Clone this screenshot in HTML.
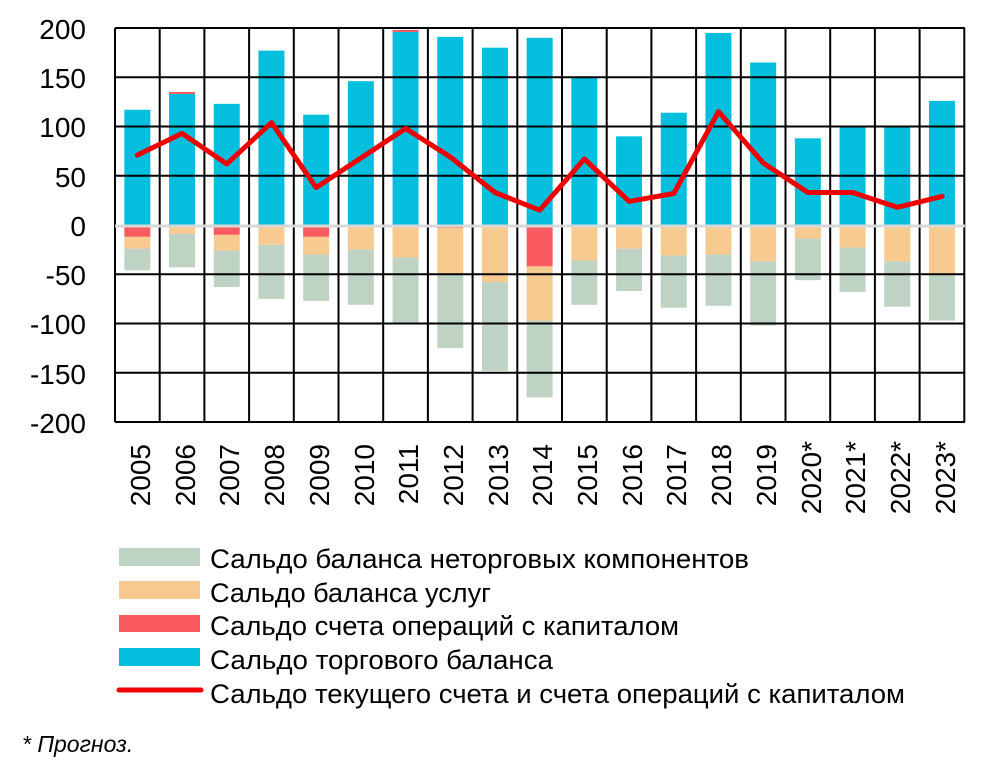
<!DOCTYPE html>
<html><head><meta charset="utf-8">
<style>
html,body{margin:0;padding:0;background:#fff;}
svg{display:block;}
text{font-family:"Liberation Sans",sans-serif;fill:#000;}
</style></head>
<body>
<svg id="s" width="984" height="770" viewBox="0 0 984 770" xmlns="http://www.w3.org/2000/svg">
<g id="bars"></g>
<g id="grid" stroke="#000" stroke-width="2" fill="none"></g>
<line x1="115" y1="226" x2="965" y2="226" stroke="#d8d8d8" stroke-width="3"/>
<polyline id="ln" fill="none" stroke="#f00000" stroke-width="5" stroke-linejoin="round" stroke-linecap="round"/>
<g font-size="28" text-anchor="end">
<text x="86" y="39">200</text>
<text x="86" y="88">150</text>
<text x="86" y="137">100</text>
<text x="86" y="187">50</text>
<text x="86" y="236">0</text>
<text x="86" y="285">-50</text>
<text x="86" y="334">-100</text>
<text x="86" y="384">-150</text>
<text x="86" y="433">-200</text>
</g>
<g font-size="28" text-anchor="end">
<text transform="translate(150,444) rotate(-90)">2005</text>
<text transform="translate(195,444) rotate(-90)">2006</text>
<text transform="translate(239,444) rotate(-90)">2007</text>
<text transform="translate(284,444) rotate(-90)">2008</text>
<text transform="translate(329,444) rotate(-90)">2009</text>
<text transform="translate(374,444) rotate(-90)">2010</text>
<text transform="translate(418,444) rotate(-90)">2011</text>
<text transform="translate(463,444) rotate(-90)">2012</text>
<text transform="translate(508,444) rotate(-90)">2013</text>
<text transform="translate(552,444) rotate(-90)">2014</text>
<text transform="translate(597,444) rotate(-90)">2015</text>
<text transform="translate(642,444) rotate(-90)">2016</text>
<text transform="translate(686,444) rotate(-90)">2017</text>
<text transform="translate(731,444) rotate(-90)">2018</text>
<text transform="translate(776,444) rotate(-90)">2019</text>
<text transform="translate(821,441) rotate(-90)">2020*</text>
<text transform="translate(865,441) rotate(-90)">2021*</text>
<text transform="translate(910,441) rotate(-90)">2022*</text>
<text transform="translate(955,441) rotate(-90)">2023*</text>
</g>
<rect x="119" y="548" width="81" height="18" fill="#bed3c3"/>
<rect x="119" y="581" width="81" height="18" fill="#f7ca8f"/>
<rect x="119" y="615" width="81" height="17" fill="#f95a5f"/>
<rect x="119" y="648" width="81" height="18" fill="#03bfdd"/>
<line x1="119" y1="690" x2="201" y2="690" stroke="#f00000" stroke-width="5" stroke-linecap="round"/>
<g font-size="27">
<text x="210" y="568" textLength="539" lengthAdjust="spacingAndGlyphs">Сальдо баланса неторговых компонентов</text>
<text x="210" y="602" textLength="281" lengthAdjust="spacingAndGlyphs">Сальдо баланса услуг</text>
<text x="210" y="635" textLength="469" lengthAdjust="spacingAndGlyphs">Сальдо счета операций с капиталом</text>
<text x="210" y="669" textLength="343" lengthAdjust="spacingAndGlyphs">Сальдо торгового баланса</text>
<text x="210" y="703" textLength="695" lengthAdjust="spacingAndGlyphs">Сальдо текущего счета и счета операций с капиталом</text>
</g>
<text x="22" y="752" font-size="23" font-style="italic">* Прогноз.</text>
</svg>
<script>
var NS="http://www.w3.org/2000/svg";
function Y(v){return 225-0.985*v;}
var d=[
[117,0,-12,-24,-46,71],[133,2,0,-9,-43,93],[123,0,-10,-26,-63,62],[177,0,0,-20,-75,104],
[112,0,-12,-30,-77,38],[146,0,0,-25,-81,68],[196,2,0,-33,-101,98],[191,0,-3,-50,-125,69],
[180,0,0,-58,-148,33],[190,0,-42,-97,-175,15],[150,0,0,-36,-81,67],[90,0,0,-24,-67,24],
[114,0,0,-31,-84,32],[195,0,0,-30,-82,115],[165,0,0,-37,-102,63],[88,0,0,-14,-56,33],
[100,0,0,-23,-68,33],[100,0,0,-37,-83,18],[126,0,0,-51,-97,29]];
var g=document.getElementById("bars"),pts=[];
function r(x,v1,v2,c){var a=Y(Math.max(v1,v2)),b=Y(Math.min(v1,v2));var e=document.createElementNS(NS,"rect");
e.setAttribute("x",x);e.setAttribute("y",a);e.setAttribute("width",26);e.setAttribute("height",b-a);e.setAttribute("fill",c);g.appendChild(e);}
d.forEach(function(o,i){var cx=115+44.7*(i+0.5),x=cx-13;
r(x,0,o[0],"#03bfdd");if(o[1])r(x,o[0],o[0]+o[1],"#f95a5f");
var s=0;if(o[2]){r(x,0,o[2],"#f95a5f");s=o[2];}
r(x,s,o[3],"#f7ca8f");r(x,o[3],o[4],"#bed3c3");
pts.push(cx.toFixed(1)+","+Y(o[5]).toFixed(1));});
document.getElementById("ln").setAttribute("points",pts.join(" "));
var gr=document.getElementById("grid"),h="";
for(var k=0;k<9;k++){var y=28+49.25*k;if(k!=4)h+='<line x1="115" y1="'+y+'" x2="965" y2="'+y+'"/>';}
for(var i=0;i<=19;i++){var x=115+44.7*i;h+='<line x1="'+x+'" y1="28" x2="'+x+'" y2="422"/>';}
gr.innerHTML=h;
</script>
</body></html>
